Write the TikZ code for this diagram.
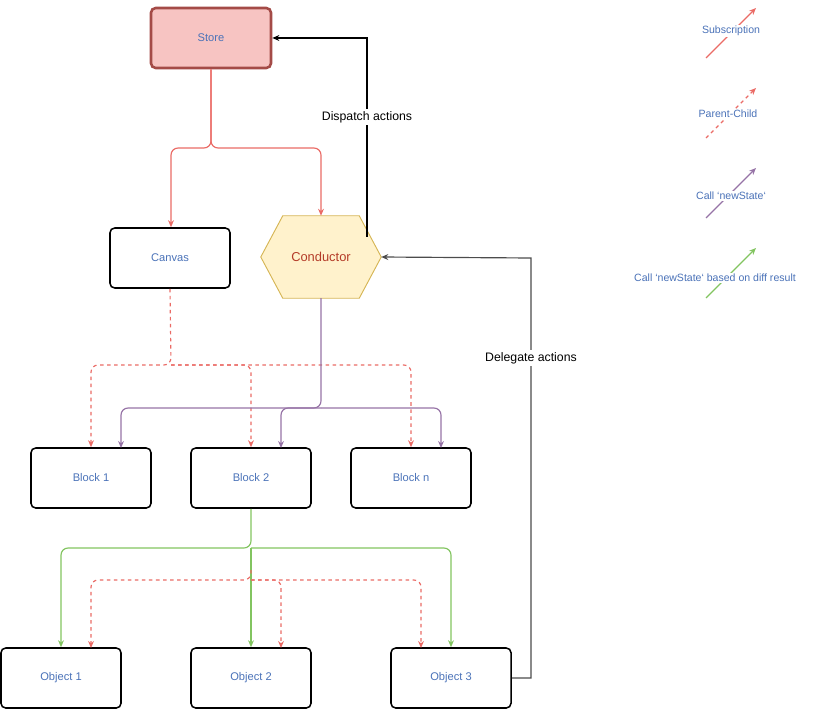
\documentclass[tikz,border=0pt]{standalone}
\usepackage{fontspec}
\setmainfont{Liberation Sans}
\usetikzlibrary{arrows.meta}
\definecolor{txt}{HTML}{4A72B8}
\definecolor{sub}{HTML}{EA6B66}
\definecolor{pur}{HTML}{9673A6}
\definecolor{grn}{HTML}{82C460}
\newcommand{\bq}{\symbol{96}}
\begin{document}
\begin{tikzpicture}[x=0.03cm,y=-0.03cm,
  box/.style={draw,line width=1.3pt,rounded corners=4pt,minimum width=3.6cm,minimum height=1.8cm,
    text=txt,font=\fontsize{9.5}{11}\selectfont},
  lbl/.style={fill=white,font=\fontsize{10.5}{12}\selectfont,inner sep=2pt},
  leg/.style={text=txt,fill=white,inner sep=1pt,font=\fontsize{9}{10}\selectfont},
  arr/.style={-{Stealth[length=6pt,width=5pt]},line width=1pt,rounded corners=6pt},
  red/.style={arr,draw=sub},
  dsh/.style={arr,draw=sub,dashed},
  pl/.style={arr,draw=pur},
  gr/.style={arr,draw=grn}]
\useasboundingbox (0,0) rectangle (822,710);
\node[box,draw=sub!70!black,fill=sub!40,line width=2.2pt] (store) at (211,38) {Store};
\node[box] (canvas) at (170,258) {Canvas};
\node[minimum width=3.6cm,minimum height=2.46cm,inner sep=0] (cond) at (321,257) {};
\fill[fill={rgb,255:red,255;green,242;blue,204},draw={rgb,255:red,214;green,182;blue,86},thick] (cond.west) -- ([xshift=0.66cm]cond.north west) -- ([xshift=-0.66cm]cond.north east) -- (cond.east) -- ([xshift=-0.66cm]cond.south east) -- ([xshift=0.66cm]cond.south west) -- cycle;
\node[text={rgb,255:red,180;green,60;blue,40},font=\fontsize{11}{13}\selectfont] at (cond) {Conductor};
\node[box] (b1) at (91,478) {Block 1};
\node[box] (b2) at (251,478) {Block 2};
\node[box] (bn) at (411,478) {Block n};
\node[box] (o1) at (61,678) {Object 1};
\node[box] (o2) at (251,678) {Object 2};
\node[box] (o3) at (451,678) {Object 3};
% store subscriptions
\draw[red] (store.south) |- (171,148) -- (canvas.north -| 171,0);
\draw[red] (store.south) |- (321,148) -- (cond.north);
% dispatch
\draw[arr,draw=black,rounded corners=0] (367,237) |- (store.east);
\node[lbl] at (367,117) {Dispatch actions};
% delegate
\draw[arr,draw=black!70,rounded corners=0] (o3.east) -| (531,258) -- (cond.east);
\node[lbl] at (531,358) {Delegate actions};
% canvas parent-child
\coordinate (c0) at (171,365);
\draw[dsh] (canvas.south) -- (c0) -| (b1.north);
\draw[dsh] (c0) -| (b2.north);
\draw[dsh] (c0) -| (bn.north);
% conductor calls
\coordinate (p0) at (321,408);
\draw[pl] (cond.south) -- (p0) -| (121,448);
\draw[pl] (p0) -| (281,448);
\draw[pl] (p0) -| (441,448);
% block 2 diff
\coordinate (g0) at (251,548);
\draw[gr] (b2.south) -- (g0) -| (o1.north);
\draw[gr] (g0) -- (o2.north);
\draw[gr] (g0) -| (o3.north);
\coordinate (r0) at (251,580);
\draw[dsh] (251,570) -- (r0) -| (91,648);
\draw[dsh] (r0) -| (281,648);
\draw[dsh] (r0) -| (421,648);
% legend
\draw[red] (706,58) -- (756,8);
\node[leg] at (731,31) {Subscription};
\draw[dsh] (706,138) -- (756,88);
\node[leg] at (728,114) {Parent-Child};
\draw[pl] (706,218) -- (756,168);
\node[leg] at (731,196) {Call \bq newState\bq};
\draw[gr] (706,298) -- (756,248);
\node[leg] at (715,278) {Call \bq newState\bq\ based on diff result};
\end{tikzpicture}
\end{document}
